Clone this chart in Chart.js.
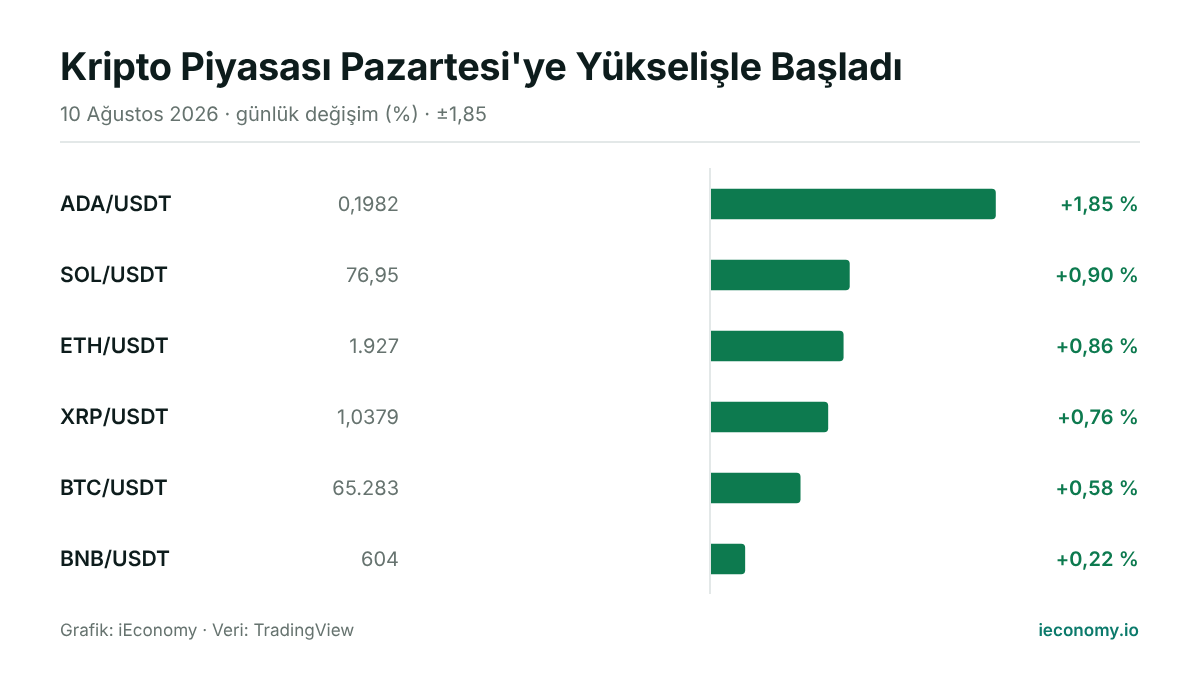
<!DOCTYPE html>
<html lang="tr">
<head>
<meta charset="utf-8">
<title>Kripto Piyasası Pazartesi'ye Yükselişle Başladı</title>
<script src="https://cdn.jsdelivr.net/npm/chart.js@4/dist/chart.umd.min.js"></script>
<style>
  html,body{margin:0;padding:0;background:#fff;font-family:Inter,sans-serif;text-rendering:geometricPrecision;}
  #wrap{position:relative;width:1200px;height:675px;overflow:hidden;}
  #wrap div{position:absolute;white-space:nowrap;}
  #title{left:60px;top:45px;font-size:38px;line-height:44px;font-weight:700;color:#0d1c1c;letter-spacing:-.42px;}
  #sub{left:60px;top:102px;font-size:20px;line-height:24px;color:#66736f;}
  #rule{left:60px;top:141px;width:1080px;height:2px;background:#e3e8e8;}
  #src{left:60px;top:621px;font-size:17.1px;line-height:20px;color:#66736f;}
  #brand{right:61px;top:621px;font-size:17.1px;line-height:20px;font-weight:600;color:#0b7a6b;}
  canvas{position:absolute;left:0;top:0;}
</style>
</head>
<body>
<div id="wrap">
  <canvas id="c" width="1200" height="675"></canvas>
  <div id="title">Kripto Piyasası Pazartesi'ye Yükselişle Başladı</div>
  <div id="sub">10 Ağustos 2026 · günlük değişim (%) · ±1,85</div>
  <div id="rule"></div>
  <div id="src">Grafik: iEconomy · Veri: TradingView</div>
  <div id="brand">ieconomy.io</div>
</div>
<script>
// ── DATA ─────────────────────────────────────
const pairs  = ['ADA/USDT','SOL/USDT','ETH/USDT','XRP/USDT','BTC/USDT','BNB/USDT'];
const prices = ['0,1982','76,95','1.927','1,0379','65.283','604'];
const change = [1.85,0.90,0.86,0.76,0.58,0.22];

const GREEN='#0d7a4f', GREY='#66736f', INK='#0d1c1c', LINE='#e3e8e8';
const fmtPct = n => '+' + n.toFixed(2).replace('.',',') + ' %';

// ── row texts + base line ────────────────────
const rowText = {
  id:'rowText',
  beforeDraw(chart){ chart.ctx.textRendering='geometricPrecision'; },
  beforeDatasetsDraw(chart){
    const {ctx,chartArea:a,scales:{x}} = chart;
    ctx.save();
    ctx.fillStyle=LINE;
    ctx.fillRect(x.getPixelForValue(0)-2,a.top-.5,2,a.bottom-a.top);
    ctx.restore();
  },
  afterDatasetsDraw(chart){
    const {ctx,chartArea:a,scales:{y}} = chart;
    ctx.save();
    ctx.textAlign='right'; ctx.textBaseline='middle';
    pairs.forEach((p,i)=>{
      const py=y.getPixelForValue(i)+.5;
      ctx.font='400 20px Inter'; ctx.fillStyle=GREY;
      ctx.fillText(prices[i],399,py);
      ctx.font='600 20px Inter'; ctx.fillStyle=GREEN;
      ctx.letterSpacing='.1px';
      ctx.fillText(fmtPct(change[i]),a.right-1,py);
      ctx.letterSpacing='0px';
    });
    ctx.restore();
  }
};

new Chart(document.getElementById('c'),{
  type:'bar',
  data:{labels:pairs,datasets:[{
    data:change,backgroundColor:GREEN,barThickness:30,
    borderRadius:{topRight:4,bottomRight:4,topLeft:0,bottomLeft:0},borderSkipped:false
  }]},
  options:{
    indexAxis:'y',responsive:false,animation:false,devicePixelRatio:1,
    layout:{padding:{left:60,right:60,top:168.5,bottom:80.5}},
    plugins:{legend:{display:false},tooltip:{enabled:false}},
    scales:{
      x:{display:false,min:0,max:2.79},
      y:{
        afterFit:s=>{s.width=651;},
        grid:{display:false},border:{display:false},
        ticks:{crossAlign:'far',padding:0,labelOffset:1,color:INK,font:{family:'Inter',size:21.2,weight:'600'}}
      }
    }
  },
  plugins:[rowText]
});
</script>
</body>
</html>
